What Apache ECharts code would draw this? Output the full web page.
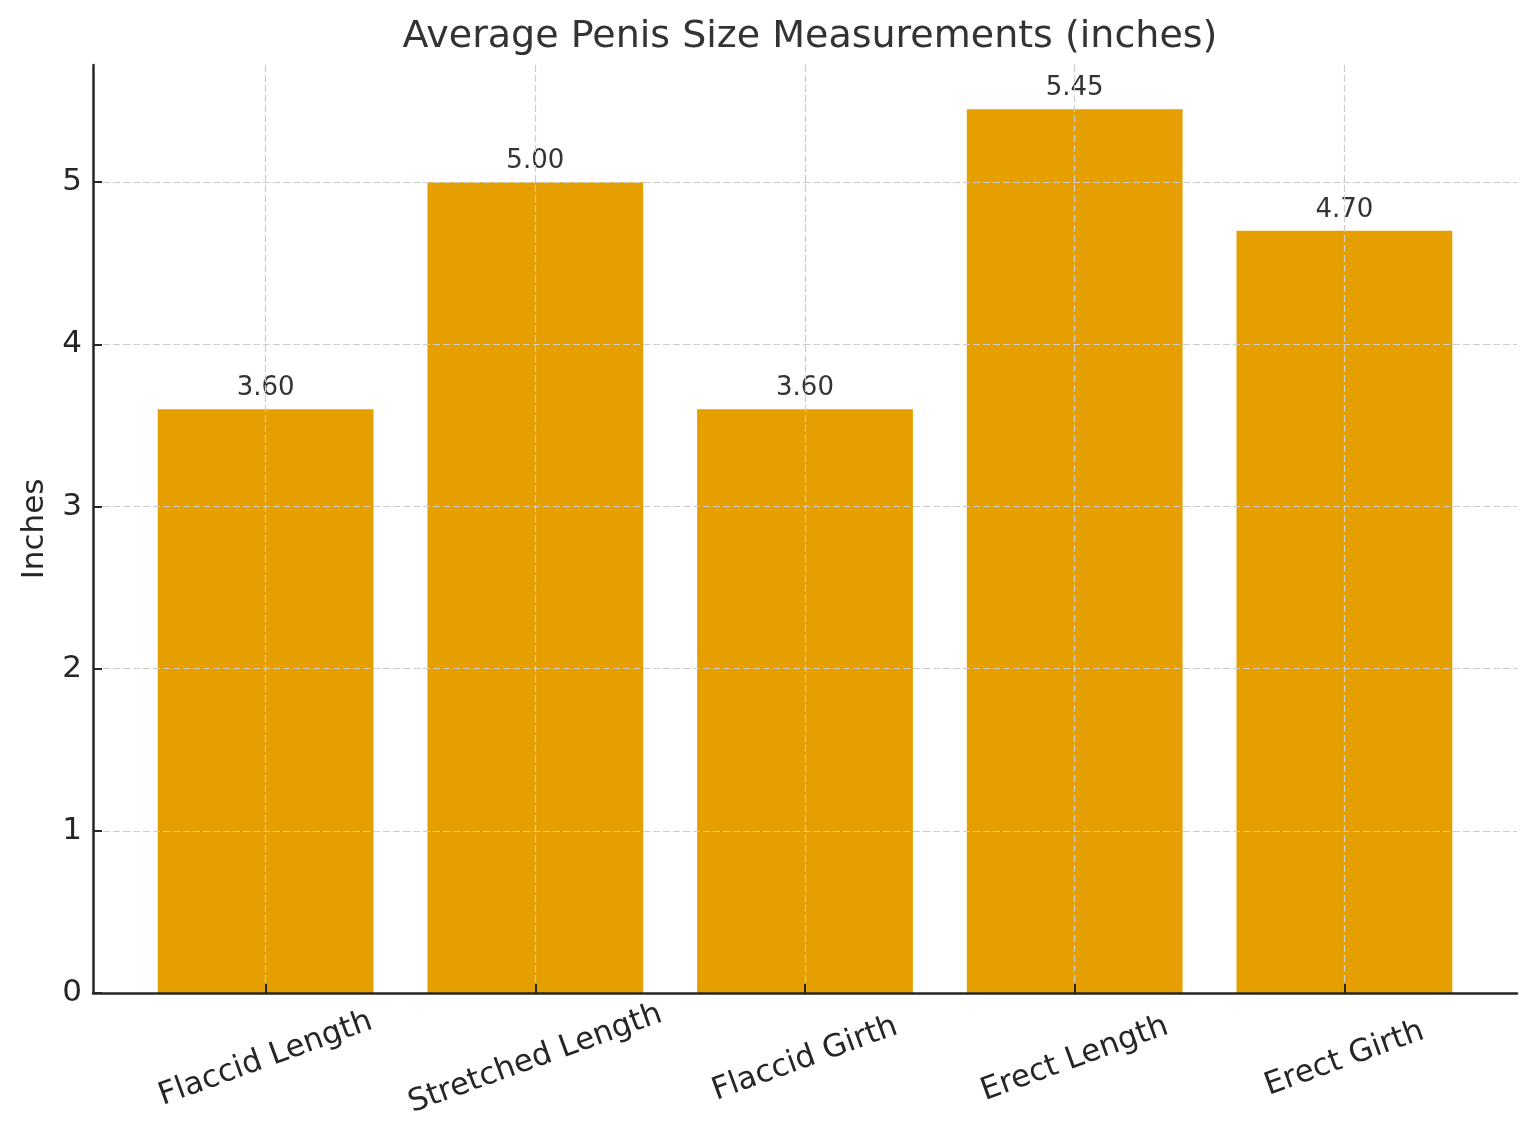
<!DOCTYPE html>
<html>
<head>
<meta charset="utf-8">
<title>Average Penis Size Measurements</title>
<script src="https://cdn.jsdelivr.net/npm/echarts@6/dist/echarts.min.js"></script>
<style>
  html, body { margin: 0; padding: 0; background: #fff; }
  #chart { width: 1536px; height: 1147px; }
</style>
</head>
<body>
<div id="chart"></div>
<script>
  // data
  var categories = ['Flaccid Length', 'Stretched Length', 'Flaccid Girth', 'Erect Length', 'Erect Girth'];
  var values = [3.60, 5.00, 3.60, 5.45, 4.70];
  var yTicks = [0, 1, 2, 3, 4, 5];

  var positions = categories.map(function (c, i) { return i; });
  var barData = values.map(function (v, i) { return [i, v]; });

  var font = 'DejaVu Sans';
  var chart = echarts.init(document.getElementById('chart'));

  chart.setOption({
    animation: false,
    backgroundColor: '#fff',
    textStyle: { fontFamily: font },
    title: {
      text: 'Average Penis Size Measurements (inches)',
      left: 805,
      textAlign: 'center',
      top: 13,
      textStyle: { fontFamily: font, fontSize: 38, fontWeight: 'normal', color: '#333' }
    },
    grid: { left: 93, right: 19, top: 65, bottom: 154 },
    xAxis: {
      type: 'value',
      min: -0.64,
      max: 4.64,
      z: 5,
      axisLine: { show: true, onZero: false, lineStyle: { color: '#262626', width: 2.5 } },
      axisTick: {
        show: true, inside: true, length: 9, customValues: positions,
        lineStyle: { color: '#262626', width: 2 }
      },
      axisLabel: {
        customValues: positions,
        rotate: 20,
        align: 'center',
        verticalAlign: 'middle',
        margin: 66,
        fontSize: 31,
        color: '#262626',
        formatter: function (v) { return categories[Math.round(v)]; }
      },
      splitLine: { show: true, lineStyle: { color: '#cccccc', width: 1.2, type: [7, 3] } }
    },
    yAxis: {
      type: 'value',
      min: 0,
      max: 5.7225,
      z: 5,
      name: 'Inches',
      nameLocation: 'middle',
      nameGap: 43,
      nameTextStyle: { fontFamily: font, fontSize: 31, color: '#262626' },
      axisLine: { show: true, onZero: false, lineStyle: { color: '#262626', width: 2.5 } },
      axisTick: {
        show: true, inside: true, length: 9, customValues: yTicks,
        lineStyle: { color: '#262626', width: 2 }
      },
      axisLabel: {
        customValues: yTicks,
        margin: 11,
        fontSize: 31,
        color: '#262626'
      },
      splitLine: { show: true, lineStyle: { color: '#cccccc', width: 1.2, type: [7, 3] } }
    },
    series: [{
      type: 'bar',
      z: 2,
      data: barData,
      barWidth: '80%',
      itemStyle: { color: '#E69F00' },
      label: {
        show: true,
        position: 'top',
        distance: 8,
        fontSize: 26,
        color: '#333',
        formatter: function (p) { return p.value[1].toFixed(2); }
      }
    }]
  });
</script>
</body>
</html>
